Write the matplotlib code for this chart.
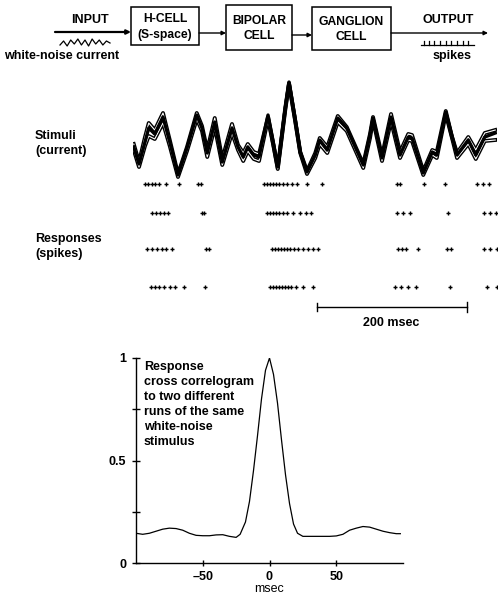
import matplotlib.pyplot as plt
import numpy as np

plt.rcParams['font.family'] = ['Liberation Sans', 'DejaVu Sans']
plt.rcParams['font.weight'] = 'bold'

W, H = 501, 597

# stimulus traces: time (msec) and current (arbitrary units), three runs
stim_t = [1, 8, 16, 21, 29, 40, 49, 60, 72, 85, 92, 99, 109, 119, 132, 140, 147,
          153, 161, 168, 180, 187, 193, 203, 208, 216, 223, 232, 243, 249, 259,
          273, 285, 307, 316, 320, 332, 344, 356, 367, 372, 387, 399, 405, 417,
          425, 432, 447, 457, 469, 483]
stim_main = [33, 16, 38, 52, 46, 63, 38, 5, 32, 65, 52, 27, 58, 18, 52, 33, 23,
             33, 25, 23, 65, 38, 13, 72, 98, 62, 28, 8, 25, 40, 30,
             62, 52, 15, 45, 62, 22, 63, 25, 43, 42, 7, 28, 25, 68,
             45, 25, 40, 25, 43, 47]
stim_hi = [36, 18, 43, 57, 50, 67, 40, 6, 33, 67, 54, 30, 62, 21, 56, 35, 27,
           36, 28, 26, 63, 36, 12, 72, 97, 61, 28, 9, 27, 42, 33,
           64, 53, 16, 46, 63, 24, 66, 28, 46, 45, 9, 30, 28, 69,
           44, 27, 43, 30, 47, 50]
stim_lo = [30, 13, 34, 44, 41, 57, 34, 3, 29, 61, 49, 23, 53, 15, 47, 30, 19,
           29, 21, 19, 61, 35, 11, 70, 96, 60, 27, 6, 22, 36, 27,
           58, 49, 12, 42, 60, 19, 59, 22, 40, 39, 5, 25, 22, 66,
           43, 22, 36, 21, 39, 40]

# spike times (msec) for four response runs
spikes_1 = [16, 20, 25, 29, 35, 44, 61, 87, 91, 175, 179, 183, 187, 191, 195, 200,
            205, 212, 219, 232, 252, 352, 356, 388, 416, 459, 467, 475]
spikes_2 = [25, 31, 36, 41, 47, 92, 95, 179, 183, 187, 191, 195, 200, 205, 213,
            223, 231, 237, 352, 360, 369, 420, 468, 476, 484]
spikes_3 = [19, 25, 32, 39, 44, 52, 97, 101, 185, 189, 193, 197, 201, 205, 209,
            215, 220, 227, 233, 240, 247, 353, 359, 364, 380, 419, 424, 468, 476, 485]
spikes_4 = [24, 29, 35, 41, 49, 56, 68, 96, 183, 187, 191, 195, 199, 203, 207,
            211, 217, 227, 240, 349, 357, 367, 377, 423, 472, 485]

# response cross correlogram
lag = [-100, -95, -90, -85, -80, -75, -70, -65, -60, -55, -50, -45, -40, -35,
       -30, -25, -22, -18, -15, -12, -9, -6, -3, 0, 3, 6, 9, 12, 15, 18, 21,
       25, 30, 35, 40, 45, 50, 55, 60, 65, 70, 75, 80, 85, 90, 95, 98]
corr = [0.145, 0.14, 0.145, 0.155, 0.165, 0.17, 0.168, 0.16, 0.145, 0.135,
        0.133, 0.133, 0.137, 0.138, 0.13, 0.125, 0.14, 0.2, 0.3, 0.45, 0.62,
        0.8, 0.94, 1.0, 0.92, 0.78, 0.6, 0.43, 0.29, 0.19, 0.145,
        0.13, 0.13, 0.13, 0.13, 0.13, 0.132, 0.14, 0.16, 0.17, 0.178, 0.175,
        0.165, 0.155, 0.148, 0.143, 0.143]

# squiggle under INPUT and output spike train
squiggle = [0, 4, -1, 5, 1, 6, 0, 5, -1, 6, 1, 5, 0, 4, 2]
out_spikes = [424, 429, 434, 440, 446, 451, 457, 463, 468]


def px_axes(fig, x0, y0, x1, y1):
    return fig.add_axes([x0 / W, 1 - y1 / H, (x1 - x0) / W, (y1 - y0) / H])


fig = plt.figure(figsize=(W / 100, H / 100), dpi=100)

# overlay for block diagram and labels (pixel coordinates)
ax0 = px_axes(fig, 0, 0, W, H)
ax0.set_xlim(0, W)
ax0.set_ylim(H, 0)
ax0.axis('off')

fs = 9
boxes = [(131, 7, 199, 45, 'H-CELL\n(S-space)'),
         (226, 5, 292, 50, 'BIPOLAR\nCELL'),
         (312, 7, 391, 50, 'GANGLION\nCELL')]
for x0, y0, x1, y1, label in boxes:
    ax0.add_patch(plt.Rectangle((x0, y0), x1 - x0, y1 - y0, fill=False,
                                lw=1.1, ec='black'))
    ax0.text((x0 + x1) / 2, (y0 + y1) / 2 + 1, label, ha='center', va='center',
             fontsize=fs - 0.3, linespacing=1.4)

arrows = [(55, 131, 32, 1.6), (199, 226, 33, 1.0), (292, 312, 35, 1.0), (391, 488, 33, 1.0)]
for xa, xb, yy, lw in arrows:
    ax0.annotate('', xy=(xb, yy), xytext=(xa, yy),
                 arrowprops=dict(arrowstyle='-|>', lw=lw, color='black',
                                 mutation_scale=6, shrinkA=0, shrinkB=0))

ax0.text(90, 20, 'INPUT', ha='center', va='center', fontsize=fs)
ax0.text(448, 20, 'OUTPUT', ha='center', va='center', fontsize=fs)
ax0.text(62, 56, 'white-noise current', ha='center', va='center', fontsize=fs)
ax0.text(452, 56, 'spikes', ha='center', va='center', fontsize=fs)

sq_x = np.linspace(60, 110, len(squiggle))
ax0.plot(sq_x, 45 - np.array(squiggle), color='black', lw=0.9)

ax0.plot([421, 474], [45, 45], color='black', lw=0.9)
for s in out_spikes:
    ax0.plot([s, s], [41, 45], color='black', lw=0.9)

ax0.text(35, 130, 'Stimuli\n(current)', ha='left', va='top', fontsize=fs,
         linespacing=1.3)
ax0.text(35, 233, 'Responses\n(spikes)', ha='left', va='top', fontsize=fs,
         linespacing=1.3)

# stimulus traces
ax1 = px_axes(fig, 133, 76, 497, 182)
ax1.set_xlim(0, 485.3)
ax1.set_ylim(-2, 104)
ax1.axis('off')
for trace in (stim_hi, stim_lo):
    ax1.plot(stim_t, trace, color='black', lw=2.8, solid_joinstyle='round')
    ax1.plot(stim_t, trace, color='white', lw=0.8, solid_joinstyle='round')
ax1.plot(stim_t, stim_main, color='black', lw=2.4, solid_joinstyle='round')

# spike rasters and scale bar
ax2 = px_axes(fig, 133, 175, 497, 335)
ax2.set_xlim(0, 485.3)
ax2.set_ylim(335, 175)
ax2.axis('off')
row_levels = [184, 213, 249, 287]
for level, row in zip(row_levels, [spikes_1, spikes_2, spikes_3, spikes_4]):
    ax2.plot(row, [level] * len(row), ls='none', marker='+', ms=3.0,
             mew=1.0, color='black')
bar_start, bar_len = 244.7, 200
ax2.plot([bar_start, bar_start + bar_len], [307, 307], color='black', lw=1.0)
ax2.plot([bar_start, bar_start], [303, 311], color='black', lw=1.0)
ax2.plot([bar_start + bar_len] * 2, [302, 312], color='black', lw=1.0)
ax2.text(bar_start + bar_len / 2, 323, '200 msec', ha='center', va='center',
         fontsize=fs)

# correlogram
ax3 = px_axes(fig, 136, 358, 403, 563)
ax3.set_xlim(-100, 100)
ax3.set_ylim(0, 1)
ax3.plot(lag, corr, color='black', lw=0.9)
for side in ('top', 'right'):
    ax3.spines[side].set_visible(False)
ax3.spines['left'].set_linewidth(1.0)
ax3.spines['bottom'].set_linewidth(1.0)
ax3.set_yticks([0, 0.25, 0.5, 0.75, 1])
ax3.set_yticklabels(['0', '', '0.5', '', '1'])
ax3.set_xticks([-50, 0, 50])
ax3.set_xticklabels(['\u201350', '0', '50'])
ax3.tick_params(axis='both', direction='inout', length=6, width=1.0,
                labelsize=fs, pad=4)
ax3.tick_params(axis='x', length=4, pad=4)
ax3.set_xlabel('msec', fontsize=fs, labelpad=0)
ax3.text(-94, 0.985, 'Response\ncross correlogram\nto two different\nruns of the same\n'
         'white-noise\nstimulus', ha='left', va='top', fontsize=fs,
         linespacing=1.33)

fig.savefig('out.png', dpi=100)
